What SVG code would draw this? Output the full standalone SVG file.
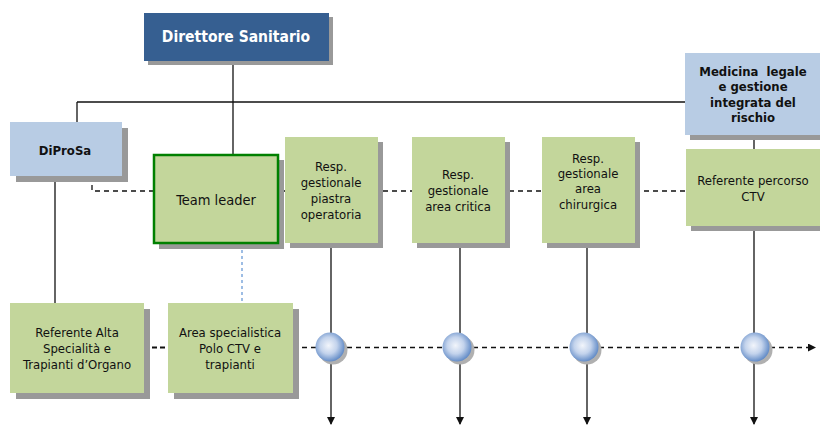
<svg xmlns="http://www.w3.org/2000/svg" width="820" height="425" viewBox="0 0 820 425">
<defs>
<style>
.sh{fill:#999999}
.blue{fill:#B8CCE4}
.green{fill:#C3D69B}
.t{font-family:"DejaVu Sans Condensed","DejaVu Sans","Liberation Sans",sans-serif;font-stretch:condensed;font-size:13px;fill:#111;text-anchor:middle}
.b{font-weight:bold}
.ln{stroke:#111;stroke-width:1.3;fill:none}
.dash{stroke:#111;stroke-width:1.3;fill:none;stroke-dasharray:5,4}
</style>
<radialGradient id="ball" cx="0.45" cy="0.45" r="0.58">
<stop offset="0" stop-color="#f2f5fb"/>
<stop offset="0.5" stop-color="#c3d3ec"/>
<stop offset="1" stop-color="#5b86c4"/>
</radialGradient>
<marker id="ah" markerWidth="8" markerHeight="8" refX="7" refY="4" orient="auto" markerUnits="userSpaceOnUse">
<path d="M0,0 L8,4 L0,8 Z" fill="#111"/>
</marker>
</defs>
<rect width="820" height="425" fill="#ffffff"/>

<g id="connectors">
<line class="ln" x1="233" y1="61" x2="233" y2="154"/>
<line class="ln" x1="77" y1="102" x2="686" y2="102"/>
<line class="ln" x1="77" y1="102" x2="77" y2="122"/>
<line class="ln" x1="55" y1="176" x2="55" y2="303"/>
<polyline class="dash" points="92,176 92,191 686,191"/>
<line x1="242" y1="244" x2="242" y2="309" stroke="#6a9ad6" stroke-width="1.3" stroke-dasharray="3,3"/>
<line x1="144" y1="347.5" x2="168" y2="347.5" stroke="#111" stroke-width="2.2" stroke-dasharray="5,3"/>
<line class="dash" x1="293" y1="347.5" x2="815" y2="347.5" marker-end="url(#ah)"/>
<line class="ln" x1="754" y1="136" x2="754" y2="149"/>
<line class="ln" x1="331" y1="243" x2="331" y2="424" marker-end="url(#ah)"/>
<line class="ln" x1="460" y1="243" x2="460" y2="424" marker-end="url(#ah)"/>
<line class="ln" x1="587" y1="243" x2="587" y2="424" marker-end="url(#ah)"/>
<line class="ln" x1="754" y1="226" x2="754" y2="424" marker-end="url(#ah)"/>
</g>

<g id="direttore">
<rect class="sh" x="148" y="17" width="185" height="48"/>
<rect x="144" y="13" width="185" height="48" fill="#365F91"/>
<text class="t b" x="236" y="42" style="font-size:15.5px;fill:#ffffff">Direttore Sanitario</text>
</g>

<g id="diprosa">
<rect class="sh" x="16" y="128" width="112" height="54"/>
<rect class="blue" x="10" y="122" width="112" height="54"/>
<text class="t b" x="65" y="155">DiProSa</text>
</g>

<g id="medicina">
<rect class="sh" x="690" y="58" width="135" height="82"/>
<rect class="blue" x="685" y="53" width="135" height="82"/>
<text class="t b" x="753" y="76" xml:space="preserve">Medicina  legale</text>
<text class="t b" x="753" y="91">e gestione</text>
<text class="t b" x="753" y="107">integrata del</text>
<text class="t b" x="753" y="122">rischio</text>
</g>

<g id="team-leader">
<rect class="sh" x="159" y="160" width="125" height="89"/>
<rect class="green" x="154" y="155" width="124" height="88" stroke="#008000" stroke-width="2.5"/>
<text class="t" x="216" y="205" style="font-size:14.5px">Team leader</text>
</g>

<g id="resp-piastra">
<rect class="sh" x="290" y="142" width="93" height="106"/>
<rect class="green" x="285" y="137" width="93" height="106"/>
<text class="t" x="331" y="171">Resp.</text>
<text class="t" x="331" y="187">gestionale</text>
<text class="t" x="331" y="203">piastra</text>
<text class="t" x="331" y="219">operatoria</text>
</g>

<g id="resp-critica">
<rect class="sh" x="417" y="142" width="93" height="106"/>
<rect class="green" x="412" y="137" width="93" height="106"/>
<text class="t" x="458" y="179">Resp.</text>
<text class="t" x="458" y="195">gestionale</text>
<text class="t" x="458" y="211">area critica</text>
</g>

<g id="resp-chirurgica">
<rect class="sh" x="547" y="142" width="93" height="106"/>
<rect class="green" x="542" y="137" width="93" height="106"/>
<text class="t" x="588" y="163">Resp.</text>
<text class="t" x="588" y="178">gestionale</text>
<text class="t" x="588" y="193">area</text>
<text class="t" x="588" y="209">chirurgica</text>
</g>

<g id="referente-ctv">
<rect class="sh" x="691" y="154" width="134" height="77"/>
<rect class="green" x="686" y="149" width="134" height="77"/>
<text class="t" x="753" y="185">Referente percorso</text>
<text class="t" x="753" y="201">CTV</text>
</g>

<g id="referente-alta">
<rect class="sh" x="16" y="309" width="134" height="90"/>
<rect class="green" x="10" y="303" width="134" height="90"/>
<text class="t" x="77" y="337">Referente Alta</text>
<text class="t" x="77" y="353">Specialità e</text>
<text class="t" x="77" y="369">Trapianti d’Organo</text>
</g>

<g id="area-specialistica">
<rect class="sh" x="174" y="309" width="125" height="90"/>
<rect class="green" x="168" y="303" width="125" height="90"/>
<text class="t" x="230" y="337">Area specialistica</text>
<text class="t" x="230" y="353">Polo CTV e</text>
<text class="t" x="230" y="369">trapianti</text>
</g>

<g id="nodes-circles">
<circle cx="333" cy="350" r="14.5" fill="#b0b0b0"/>
<circle cx="330" cy="347" r="14.5" fill="url(#ball)"/>
<circle cx="460" cy="350" r="14.5" fill="#b0b0b0"/>
<circle cx="457" cy="347" r="14.5" fill="url(#ball)"/>
<circle cx="587" cy="350" r="14.5" fill="#b0b0b0"/>
<circle cx="584" cy="347" r="14.5" fill="url(#ball)"/>
<circle cx="758" cy="350" r="14.5" fill="#b0b0b0"/>
<circle cx="755" cy="347" r="14.5" fill="url(#ball)"/>
</g>
</svg>
